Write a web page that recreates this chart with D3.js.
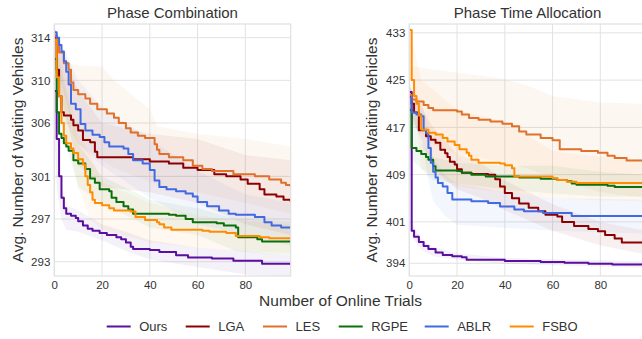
<!DOCTYPE html>
<html>
<head>
<meta charset="utf-8">
<script src="https://cdn.jsdelivr.net/npm/d3@7"></script>
<style>
  html, body { margin: 0; padding: 0; background: #fff; overflow: hidden; }
</style>
</head>
<body>
<div id="chart"></div>
<script>
// ---- data (trial, value) step breakpoints ----
var methods = ['Ours', 'LGA', 'LES', 'RGPE', 'ABLR', 'FSBO'];

// Phase Combination: mean curves
var pcOurs = [[0,309],[1,304.5],[2,301],[3,299],[4,298],[5,297.5],[7,297.3],[9,297.1],[10,296.8],[12,296.4],[14,296.1],[16,295.9],[19,295.7],[22,295.5],[26,295.3],[28,295.1],[30,294.8],[32,294.4],[33,294.2],[40,294.1],[44,293.9],[51,293.6],[56,293.4],[66,293.3],[75,293.1],[87,292.8],[99,292.7]];
var pcLGA = [[0,314],[1,311],[2,308.5],[3,307],[4,306.7],[7,306.3],[8,305.8],[10,305.3],[12,304.4],[15,304.2],[17,303.3],[18,302.8],[33,302.6],[40,302.4],[48,302.2],[54,301.8],[60,301.6],[67,301.2],[72,301],[78,300.7],[81,300.3],[86,299.8],[88,299.3],[93,299.1],[96,298.8],[99,298.6]];
var pcLES = [[0,314.2],[1,313.3],[2,312.6],[4,311.6],[6,311],[7,309.8],[8,309.1],[10,308.7],[13,308.3],[15,307.8],[18,307.3],[22,306.9],[25,306.5],[27,306],[30,305.5],[32,305.1],[35,304.8],[38,304.6],[42,304],[43,303.5],[44,303.1],[48,302.8],[54,302.5],[58,302],[62,301.7],[66,301.5],[75,301.2],[84,301],[90,300.7],[95,300.4],[97,300.2],[99,300]];
var pcRGPE = [[0,312],[1,307],[2,305],[3,304.6],[4,304.1],[5,303.8],[6,303.4],[8,302.5],[10,302.2],[13,301.7],[15,300.8],[17,300.4],[19,299.8],[23,299.6],[24,299],[26,298.6],[29,298.2],[31,297.9],[33,297.5],[48,297.4],[51,297.3],[55,297],[58,296.7],[68,296.6],[71,296.4],[76,296.2],[77,295.3],[85,295.1],[87,294.9],[99,294.8]];
var pcABLR = [[0,314.5],[1,314],[2,313.3],[3,312.7],[4,311.8],[5,310.8],[6,309.6],[7,307.8],[9,307.3],[11,305.9],[13,305.3],[16,304.9],[19,304.7],[21,304.2],[23,303.8],[29,303.6],[31,303.1],[33,302.5],[37,302.2],[40,301.6],[42,300.6],[44,300],[47,299.8],[51,299.6],[55,299.4],[58,299.1],[60,298.6],[64,298.2],[69,297.8],[73,297.5],[76,297.4],[84,297.2],[88,296.7],[91,296.4],[95,296.2],[99,296.1]];
var pcFSBO = [[0,313.8],[1,310.3],[2,308.5],[3,306],[4,304.8],[5,304.1],[7,303.6],[8,303.2],[10,302.6],[12,302.1],[13,301],[14,300.2],[15,299.5],[16,298.8],[17,298.5],[20,298.3],[23,298],[25,297.8],[32,297.7],[34,297.2],[38,296.9],[43,296.7],[44,296.5],[46,296.2],[49,296],[62,295.9],[65,295.8],[72,295.7],[76,295.4],[86,295.3],[90,295.2],[99,295.2]];

// Phase Combination: bands (trial, low, high)
var pcOursBand = [[0,305,312],[1,300,306],[3,297,300],[5,296,298.3],[10,295.8,297.8],[20,295,296.5],[30,294,295.8],[40,293.2,295],[60,292.5,294.3],[80,291.8,294],[99,291.6,293.5]];
var pcLGABand = [[0,311,315],[10,302,309],[20,300,306],[40,299.5,305],[60,298.5,304.5],[80,296.5,303],[99,295.5,302.5]];
var pcLESBand = [[0,312,315.3],[5,306,311.6],[10,304,311.4],[20,302.5,311.3],[25,301.8,310],[40,300.5,307.3],[43,300.2,305.7],[60,299.5,305],[80,298.5,304.5],[99,297.5,303.8]];
var pcRGPEBand = [[0,308,314],[10,300,304],[20,298.5,301],[40,296.2,298.8],[60,295.5,298],[76,294,297],[99,293.5,296.8]];
var pcABLRBand = [[0,312,315],[10,304,310],[20,302,307.5],[40,299,304.5],[60,296.5,301.5],[80,295.5,299.3],[99,294.5,298.5]];
var pcFSBOBand = [[0,310,315],[10,300,305],[15,297,303],[20,296,300.5],[40,294.8,298.5],[60,294.3,297.3],[80,294,296.8],[99,293.8,296.5]];

// Phase Time Allocation: mean curves
var ptOurs = [[0,423],[1,399.5],[2,398.5],[4,397.6],[6,396.9],[8,396.4],[11,395.8],[14,395.4],[18,395.2],[22,395],[24,394.6],[40,394.4],[55,394.2],[65,394.1],[75,393.9],[85,393.8],[99,393.7]];
var ptLGA = [[0,422.3],[1,421],[2,419.5],[4,416.5],[7,415.5],[9,414.9],[11,414.4],[13,413.2],[15,412.6],[16,412],[17,411.2],[19,410.7],[20,409.9],[22,409.3],[26,409.1],[33,409],[36,408.2],[38,407],[40,405.9],[43,405],[46,404.1],[50,403.4],[54,402.8],[57,402.2],[62,401.9],[64,401],[69,400.3],[75,399.8],[79,399.4],[82,398.8],[86,398.2],[89,397.5],[99,397.1]];
var ptLES = [[0,422.5],[1,421.7],[3,421.4],[6,420.8],[8,420.3],[10,419.9],[20,419.7],[22,419.2],[25,418.6],[29,418.3],[34,418],[39,417.6],[43,417.2],[46,416.3],[49,415.8],[55,415.2],[60,414.8],[63,413.3],[72,413],[79,412.7],[83,412.2],[86,411.8],[91,411.4],[99,411.2]];
var ptRGPE = [[0,420],[1,413.5],[3,413],[5,412.5],[7,412],[8,411.5],[10,410.4],[11,409.7],[20,409.6],[22,409.3],[26,409],[32,408.7],[46,408.5],[55,408.3],[62,408.1],[66,407.9],[68,407.5],[70,407.3],[83,407.1],[86,406.9],[99,406.9]];
var ptABLR = [[0,422],[1,419.5],[3,419.2],[5,418.9],[6,416.6],[7,416],[8,413.5],[9,411],[10,409.5],[11,408.5],[12,407.6],[14,407],[16,405.9],[18,404.8],[26,404.5],[33,404.2],[38,403.6],[44,403.1],[48,402.8],[56,402.5],[68,402],[99,401.9]];
var ptFSBO = [[0,433.5],[1,425],[2,422.3],[3,421],[4,419],[5,416.6],[8,416.1],[11,415.8],[14,415.2],[16,414.6],[19,414],[21,413.3],[24,412.7],[25,412.2],[26,411.5],[29,411],[38,410.9],[40,410.6],[43,410.1],[44,408.7],[60,408.4],[62,408.1],[66,407.8],[70,407.6],[99,407.6]];

// Phase Time Allocation: bands (trial, low, high)
var ptOursBand = [[0,420,425],[1,398.5,401],[5,396.3,398],[10,395.2,396.8],[20,394.6,395.7],[40,393.9,394.9],[99,393.2,394.3]];
var ptLGABand = [[0,420,424],[10,410,417],[20,406.5,412.5],[30,405,411],[40,403,408],[60,399.5,404],[80,397,401],[99,395.5,399.5]];
var ptLESBand = [[0,418,427.4],[10,414,426.8],[20,412.5,426.3],[40,411,425.2],[50,410,424],[60,408.5,422.3],[80,406,421.2],[99,405,421]];
var ptRGPEBand = [[0,412,425],[5,410,414.5],[10,408,412],[20,407.5,411],[40,406.5,410.5],[60,405.8,410.5],[80,405.3,409.5],[99,405.3,409]];
var ptABLRBand = [[0,419,424],[5,415,421.5],[8,408,417],[10,404.5,412],[15,402,409],[20,400.5,407.5],[40,400,406],[60,399.5,405],[99,399,404.8]];
var ptFSBOBand = [[0,430,434],[5,410,425],[20,407,420],[40,406,418],[60,405,413],[80,404.6,412],[99,404.5,411.5]];

var pcTicks = [293, 297, 301, 306, 310, 314];
var ptTicks = [394, 401, 409, 417, 425, 433];
var xTicks = [0, 20, 40, 60, 80];

var COLORS = { Ours: '#5a0fa0', LGA: '#8b0000', LES: '#e0702a', RGPE: '#0b700b', ABLR: '#4169e1', FSBO: '#ff8c00' };
var FONT = '"Liberation Sans", Arial, Helvetica, sans-serif';

var W = 642, H = 339;
var svg = d3.select('#chart').append('svg').attr('width', W).attr('height', H)
  .style('font-family', FONT);

var panels = [
  { title: 'Phase Combination', left: 54.3, yDomain: [291.66, 315.28], ticks: pcTicks, ylabX: 23,
    lines: [pcOurs, pcLGA, pcLES, pcRGPE, pcABLR, pcFSBO],
    bands: [pcOursBand, pcLGABand, pcLESBand, pcRGPEBand, pcABLRBand, pcFSBOBand] },
  { title: 'Phase Time Allocation', left: 409.3, yDomain: [391.84, 434.5], ticks: ptTicks, ylabX: 377,
    lines: [ptOurs, ptLGA, ptLES, ptRGPE, ptABLR, ptFSBO],
    bands: [ptOursBand, ptLGABand, ptLESBand, ptRGPEBand, ptABLRBand, ptFSBOBand] }
];

var plotTop = 24, plotBottom = 276, pw = 236.4;

panels.forEach(function(p, pi) {
  var x = d3.scaleLinear().domain([0, 99]).range([p.left, p.left + pw]);
  var y = d3.scaleLinear().domain(p.yDomain).range([plotBottom, plotTop]);
  var g = svg.append('g');

  g.append('clipPath').attr('id', 'clip' + pi).append('rect')
    .attr('x', p.left).attr('y', plotTop).attr('width', pw).attr('height', plotBottom - plotTop);

  // Grid
  g.append('g').selectAll('line').data(p.ticks).join('line')
    .attr('x1', p.left).attr('x2', p.left + pw)
    .attr('y1', function(d) { return y(d); }).attr('y2', function(d) { return y(d); })
    .attr('stroke', '#e2e2e2').attr('stroke-width', 1);
  g.append('g').selectAll('line').data(xTicks).join('line')
    .attr('y1', plotTop).attr('y2', plotBottom)
    .attr('x1', function(d) { return x(d); }).attr('x2', function(d) { return x(d); })
    .attr('stroke', '#e2e2e2').attr('stroke-width', 1);

  var plot = g.append('g').attr('clip-path', 'url(#clip' + pi + ')');

  // Bands (sparse readings, drawn straight between them)
  var area = d3.area()
    .x(function(d) { return x(d[0]); })
    .y0(function(d) { return y(d[1]); })
    .y1(function(d) { return y(d[2]); });
  p.bands.forEach(function(b, i) {
    plot.append('path').datum(b.concat([[99.5, b[b.length - 1][1], b[b.length - 1][2]]]))
      .attr('d', area).attr('fill', COLORS[methods[i]]).attr('fill-opacity', 0.06);
  });

  // Lines
  var line = d3.line().curve(d3.curveStepAfter)
    .x(function(d) { return x(d[0]); })
    .y(function(d) { return y(d[1]); });
  p.lines.forEach(function(l, i) {
    plot.append('path').datum(l).attr('d', line)
      .attr('fill', 'none').attr('stroke', COLORS[methods[i]]).attr('stroke-width', 2)
      .attr('stroke-linejoin', 'round');
  });

  // Frame
  g.append('rect').attr('x', p.left).attr('y', plotTop).attr('width', pw).attr('height', plotBottom - plotTop)
    .attr('fill', 'none').attr('stroke', '#e0e0e0').attr('stroke-width', 1.2);

  // Axes
  g.append('g').attr('transform', 'translate(0,' + plotBottom + ')')
    .call(d3.axisBottom(x).tickValues(xTicks).tickSize(0).tickPadding(5))
    .call(function(a) { a.select('.domain').remove(); })
    .call(function(a) { a.selectAll('.tick text').attr('fill', '#333').attr('font-size', '11.5px').attr('font-family', FONT); });
  g.append('g').attr('transform', 'translate(' + p.left + ',0)')
    .call(d3.axisLeft(y).tickValues(p.ticks).tickSize(0).tickPadding(4))
    .call(function(a) { a.select('.domain').remove(); })
    .call(function(a) { a.selectAll('.tick text').attr('fill', '#333').attr('font-size', '11.5px').attr('font-family', FONT); });

  // Title
  svg.append('text').attr('x', p.left + pw / 2).attr('y', 18)
    .attr('text-anchor', 'middle').attr('fill', '#333').attr('font-size', '15px')
    .text(p.title);

  // Y label
  svg.append('text').attr('transform', 'translate(' + p.ylabX + ',' + ((plotTop + plotBottom) / 2) + ') rotate(-90)')
    .attr('text-anchor', 'middle').attr('fill', '#333').attr('font-size', '15.5px')
    .text('Avg. Number of Waiting Vehicles');
});

// X label
svg.append('text').attr('x', 340.5).attr('y', 306)
  .attr('text-anchor', 'middle').attr('fill', '#333').attr('font-size', '15.5px')
  .text('Number of Online Trials');

// Legend
var legendX = [106.7, 185.7, 263, 338.7, 424.7, 509.7];
var lg = svg.append('g').attr('transform', 'translate(0,326.5)');
methods.forEach(function(m, i) {
  lg.append('line').attr('x1', legendX[i]).attr('x2', legendX[i] + 24).attr('y1', 0).attr('y2', 0)
    .attr('stroke', COLORS[m]).attr('stroke-width', 2);
  lg.append('text').attr('x', legendX[i] + 32.5).attr('y', 4.5)
    .attr('fill', '#333').attr('font-size', '13px').text(m);
});
</script>
</body>
</html>
